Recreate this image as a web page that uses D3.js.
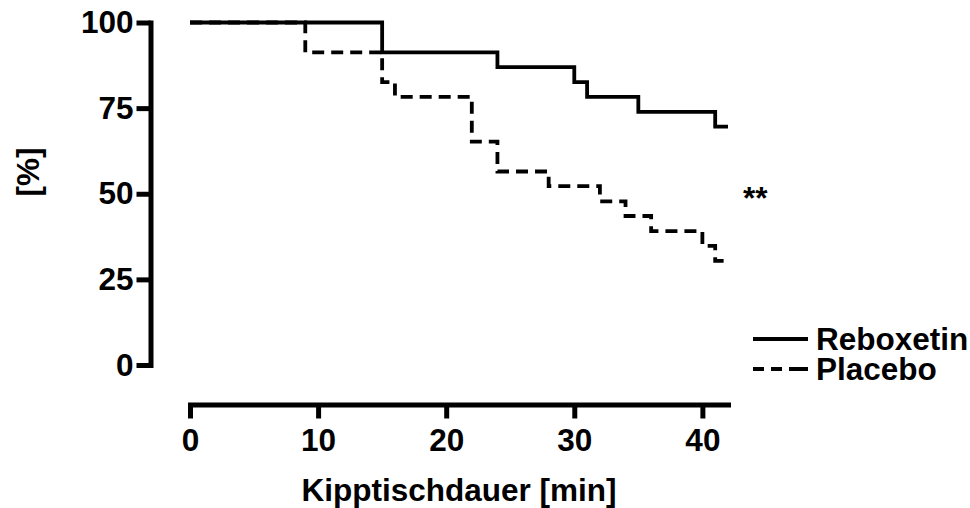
<!DOCTYPE html>
<html>
<head>
<meta charset="utf-8">
<script src="https://cdn.jsdelivr.net/npm/d3@7"></script>
<style>
  html, body { margin: 0; padding: 0; background: #fff; }
  svg { display: block; }
  text { font-family: "Liberation Sans", Arial, sans-serif; font-weight: bold; fill: #000; }
</style>
</head>
<body>
<svg id="chart" width="970" height="508"></svg>
<script>
// ---- data ----
const reboxetinTime = [0, 15, 24, 30, 31, 35, 41, 42];
const reboxetinSurv = [100, 91.3, 87.0, 82.6, 78.3, 73.9, 69.6, 69.6];
const placeboTime = [0, 9, 15, 16, 22, 24, 28, 32, 34, 36, 40, 41, 42];
const placeboSurv = [100, 91.3, 82.6, 78.3, 65.2, 56.5, 52.2, 47.8, 43.5, 39.1, 34.8, 30.4, 30.4];
const xTicks = [0, 10, 20, 30, 40];
const yTicks = [0, 25, 50, 75, 100];
const seriesNames = ["Reboxetin", "Placebo"];
const xTitle = "Kipptischdauer [min]";
const yTitle = "[%]";
const sigLabel = "**";

// ---- layout ----
const svg = d3.select("#chart");
const x = d3.scaleLinear().domain([0, 42]).range([190, 728]);
const y = d3.scaleLinear().domain([0, 100]).range([365, 22.5]);
const yAxisX = 150.5;
const xAxisY = 404.5;
const fontSize = 31.5;

// y axis
const gy = svg.append("g")
  .attr("transform", `translate(${yAxisX},0)`)
  .call(d3.axisLeft(y).tickValues(yTicks).tickSize(14).tickSizeOuter(0).tickPadding(3));
gy.select(".domain").attr("stroke-width", 5).attr("stroke-linecap", "square");
gy.selectAll(".tick line").attr("stroke-width", 5);
gy.selectAll(".tick text").attr("font-size", fontSize).attr("font-family", null);

// x axis
const gx = svg.append("g")
  .attr("transform", `translate(0,${xAxisY})`)
  .call(d3.axisBottom(x).tickValues(xTicks).tickSize(14).tickSizeOuter(0).tickPadding(10));
gx.select(".domain").attr("stroke-width", 5).attr("stroke-linecap", "square");
gx.selectAll(".tick line").attr("stroke-width", 5);
gx.selectAll(".tick text").attr("font-size", fontSize).attr("font-family", null);
svg.selectAll(".tick text").attr("font-weight", "bold");

// axis titles
svg.append("text")
  .attr("x", (x(0) + x(42)) / 2)
  .attr("y", 501)
  .attr("text-anchor", "middle")
  .attr("font-size", fontSize)
  .text(xTitle);

svg.append("text")
  .attr("transform", "translate(39,172) rotate(-90)")
  .attr("text-anchor", "middle")
  .attr("font-size", fontSize)
  .text(yTitle);

// survival curves
const line = d3.line()
  .x(d => x(d[0]))
  .y(d => y(d[1]))
  .curve(d3.curveStepAfter);

const reboxetin = reboxetinTime.map((t, i) => [t, reboxetinSurv[i]]);
const placebo = placeboTime.map((t, i) => [t, placeboSurv[i]]);

svg.append("path")
  .datum(reboxetin)
  .attr("d", line)
  .attr("fill", "none")
  .attr("stroke", "#000")
  .attr("stroke-width", 3.8);

svg.append("path")
  .datum(placebo)
  .attr("d", line)
  .attr("fill", "none")
  .attr("stroke", "#000")
  .attr("stroke-width", 3.8)
  .attr("stroke-dasharray", "12,7");

// significance
svg.append("text")
  .attr("x", 743)
  .attr("y", 209)
  .attr("font-size", fontSize)
  .text(sigLabel);

// legend
const legendY = [339, 369];
const lg = svg.append("g");
seriesNames.forEach((name, i) => {
  lg.append("line")
    .attr("x1", 753).attr("x2", 808)
    .attr("y1", legendY[i]).attr("y2", legendY[i])
    .attr("stroke", "#000")
    .attr("stroke-width", 3.8)
    .attr("stroke-dasharray", i === 1 ? "11,7,11,7,19" : null);
  lg.append("text")
    .attr("x", 816)
    .attr("y", legendY[i])
    .attr("dy", "0.36em")
    .attr("font-size", fontSize)
    .text(name);
});
</script>
</body>
</html>
